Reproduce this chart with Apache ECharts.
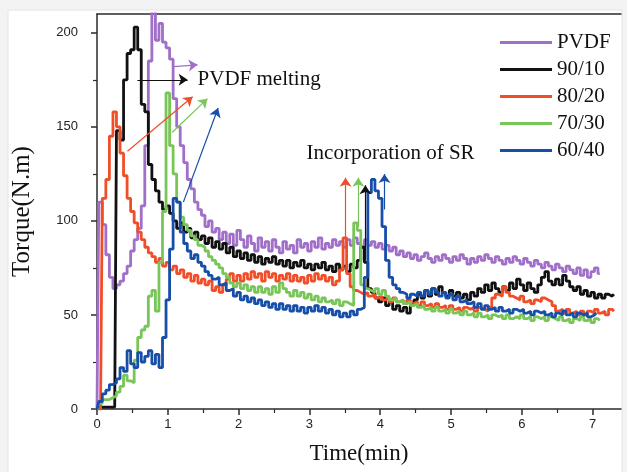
<!DOCTYPE html>
<html>
<head>
<meta charset="utf-8">
<title>Torque vs time</title>
<script src="https://cdn.jsdelivr.net/npm/echarts@6/dist/echarts.min.js"></script>
<style>
  html, body { margin: 0; padding: 0; background: #f3f3f3; }
  #chart { width: 627px; height: 472px; }
</style>
</head>
<body>
<div id="chart"></div>
<script>
// time axis (min), shared by all curves
const time = [
  0, 0.05, 0.1, 0.15, 0.2, 0.25, 0.3, 0.35, 0.4, 0.45,
  0.5, 0.55, 0.6, 0.65, 0.7, 0.75, 0.8, 0.85, 0.9, 0.95,
  1, 1.05, 1.1, 1.15, 1.2, 1.25, 1.3, 1.35, 1.4, 1.45,
  1.5, 1.55, 1.6, 1.65, 1.7, 1.75, 1.8, 1.85, 1.9, 1.95,
  2, 2.05, 2.1, 2.15, 2.2, 2.25, 2.3, 2.35, 2.4, 2.45,
  2.5, 2.55, 2.6, 2.65, 2.7, 2.75, 2.8, 2.85, 2.9, 2.95,
  3, 3.05, 3.1, 3.15, 3.2, 3.25, 3.3, 3.35, 3.4, 3.45,
  3.5, 3.55, 3.6, 3.65, 3.7, 3.75, 3.8, 3.85, 3.9, 3.95,
  4, 4.05, 4.1, 4.15, 4.2, 4.25, 4.3, 4.35, 4.4, 4.45,
  4.5, 4.55, 4.6, 4.65, 4.7, 4.75, 4.8, 4.85, 4.9, 4.95,
  5, 5.05, 5.1, 5.15, 5.2, 5.25, 5.3, 5.35, 5.4, 5.45,
  5.5, 5.55, 5.6, 5.65, 5.7, 5.75, 5.8, 5.85, 5.9, 5.95,
  6, 6.05, 6.1, 6.15, 6.2, 6.25, 6.3, 6.35, 6.4, 6.45,
  6.5, 6.55, 6.6, 6.65, 6.7, 6.75, 6.8, 6.85, 6.9, 6.95,
  7, 7.05, 7.1, 7.15, 7.2, 7.25, 7.3
];

// torque (N.m)
const pvdf = [
  0, 110, 98, 82, 70, 64, 66, 68, 72, 76,
  84, 90, 96, 108, 140, 185, 212, 196, 205, 195,
  192, 186, 165, 150, 140, 131, 122, 117, 110, 106,
  103, 97, 100, 94, 96, 90, 94, 88, 93, 87,
  95, 90, 86, 92, 88, 84, 91, 86, 89, 84,
  90, 86, 83, 89, 85, 87, 83, 90, 86, 88,
  84, 89, 86, 91, 85, 88, 86, 90, 87, 89,
  86, 90, 87, 91, 88, 86, 90, 87, 89, 86,
  88, 85, 87, 84, 86, 82, 84, 81, 83, 80,
  82, 79, 81, 83, 80, 78, 81, 79, 82, 80,
  78, 81, 79, 82, 80, 77, 80, 78, 81, 79,
  82, 80, 78, 81, 79, 77, 80, 78, 81, 79,
  77, 80, 78, 76, 79, 77, 75, 78, 76, 74,
  77, 75, 73, 76, 74, 72, 75, 71, 74, 70,
  73, 75, 72
];
const s9010 = [
  0, 1, 1, 1, 1, 1, 148, 143, 175, 189,
  191, 203, 191, 162, 158, 130, 122, 116, 110, 106,
  108, 104, 100, 96, 99, 94, 96, 91, 94, 90,
  92, 88, 91, 86, 89, 85, 88, 83, 86, 81,
  84, 80, 83, 79, 82, 78, 81, 77, 80, 78,
  81, 77, 79, 76, 79, 75, 78, 76, 79, 75,
  77, 74, 77, 75, 78, 74, 76, 73, 77, 74,
  76, 73, 77, 75, 79, 86, 78, 64, 62, 59,
  57, 59, 55, 57, 53, 55, 52, 54, 51, 55,
  58, 61, 59, 63, 60, 64, 61, 65, 62, 60,
  63, 60, 62, 59, 61, 58, 62, 60, 64, 62,
  66, 63, 67, 64, 62, 65, 63, 67, 64, 69,
  66, 63, 67, 64, 62, 66, 70, 73, 68, 66,
  69, 66, 71, 68, 65, 63, 65, 61, 63, 60,
  62, 59, 61, 59, 61, 60, 61
];
const s8020 = [
  0, 0, 112, 122, 145, 158, 150, 136, 124, 112,
  105, 99, 94, 90, 86, 83, 81, 78, 80, 76,
  78, 74, 76, 72, 74, 70, 72, 68, 71, 67,
  69, 66, 68, 63, 65, 62, 66, 69, 72, 68,
  71, 68, 72, 69, 73, 70, 72, 68, 73, 70,
  72, 68, 71, 69, 72, 68, 71, 68, 70, 67,
  71, 68, 72, 69, 71, 68, 70, 66, 68, 74,
  91, 72, 65, 63, 62, 61, 62, 60, 61, 59,
  60, 58, 59, 57, 59, 57, 58, 56, 58, 56,
  57, 55, 57, 55, 56, 54, 56, 54, 55, 53,
  55, 53, 54, 52, 54, 53, 54, 52, 54, 53,
  52, 54, 59, 61, 60, 65, 62, 60, 59, 58,
  60, 57, 58, 56, 58, 57, 59, 58, 57, 55,
  52, 53, 51, 53, 51, 52, 50, 52, 50, 52,
  51, 53, 51, 52, 50, 53, 52
];
const s7030 = [
  0, 3, 5, 5, 6, 7, 9, 12, 18, 15,
  14, 26, 38, 42, 44, 60, 63, 52, 78, 105,
  168, 140, 125, 110, 102, 98, 95, 92, 90, 87,
  86, 84, 81, 79, 77, 75, 72, 70, 67, 65,
  67, 64, 66, 63, 65, 62, 65, 62, 64, 61,
  65, 62, 67, 64, 62, 60, 63, 60, 62, 59,
  61, 58, 60, 57, 59, 57, 58, 56, 58, 55,
  57, 56, 55, 99, 95, 66, 64, 63, 62, 64,
  61, 63, 60, 58, 59, 57, 58, 56, 57, 55,
  56, 54, 55, 53, 54, 52, 54, 52, 53, 51,
  53, 51, 52, 50, 52, 50, 51, 49, 51, 49,
  50, 48, 50, 49, 50, 48, 50, 48, 49, 48,
  50, 48, 49, 47, 49, 48, 49, 47, 49, 48,
  47, 49, 47, 48, 46, 48, 47, 49, 47, 48,
  46, 48, 47
];
const s6040 = [
  0, 4, 8, 10, 13, 14, 16, 22, 20, 31,
  24, 22, 30, 25, 28, 31, 24, 29, 22, 38,
  58, 85, 112, 110, 94, 88, 84, 80, 82, 78,
  76, 73, 71, 69, 70, 66, 67, 63, 64, 60,
  62, 58, 60, 57, 59, 56, 58, 55, 57, 54,
  56, 53, 56, 53, 55, 52, 55, 52, 54, 51,
  54, 52, 55, 52, 54, 51, 53, 50, 52, 49,
  51, 49, 52, 50, 53, 54, 70, 115, 122, 116,
  112, 97, 79, 70, 66, 64, 62, 61, 59, 61,
  60, 62, 60, 63, 61, 64, 62, 60, 62, 59,
  61, 58, 60, 57, 58, 56, 57, 54, 56, 53,
  55, 53, 54, 52, 54, 52, 53, 51, 53, 52,
  53, 51, 52, 50, 52, 51, 52, 50, 51, 49,
  51, 50, 52, 50, 51, 49, 51, 50, 51, 49,
  50, 51
];

const names = ['PVDF', '90/10', '80/20', '70/30', '60/40'];
const values = [pvdf, s9010, s8020, s7030, s6040];
const colors = {
  'PVDF': '#a06fc8',
  '90/10': '#111111',
  '80/20': '#f04e28',
  '70/30': '#78c657',
  '60/40': '#164ea8'
};

// ticks
const xTicks = [0, 1, 2, 3, 4, 5, 6, 7];
const xMinor = [0.5, 1.5, 2.5, 3.5, 4.5, 5.5, 6.5];
const yTicks = [0, 50, 100, 150, 200];
const yMinor = [25, 75, 125, 175];

// annotation arrows: [series, fromTime, fromTorque, toTime, toTorque]
const meltArrows = [
  ['PVDF', 1.08, 182, 1.42, 183],
  ['90/10', 0.57, 175, 1.28, 175],
  ['80/20', 0.43, 137, 1.35, 166],
  ['70/30', 1.06, 147, 1.56, 165],
  ['60/40', 1.22, 110, 1.71, 160]
];
const srArrows = [
  ['80/20', 3.51, 90, 3.51, 123],
  ['70/30', 3.69, 97, 3.69, 123],
  ['90/10', 3.79, 79, 3.79, 119],
  ['60/40', 4.06, 106, 4.06, 125]
];
const notes = [
  ['PVDF melting', 1.42, 175],
  ['Incorporation of SR', 2.96, 136]
];

const serif = '"Times New Roman", "Liberation Serif", "DejaVu Serif", serif';
const sans = 'Arial, "Liberation Sans", sans-serif';
const axisColor = '#2b2b2b';

const chart = echarts.init(document.getElementById('chart'), null, { renderer: 'canvas' });

const curveSeries = names.map((n, k) => ({
  name: n,
  type: 'line',
  step: 'middle',
  showSymbol: false,
  symbol: 'none',
  clip: true,
  data: values[k].map((v, i) => [time[i], v]),
  lineStyle: { color: colors[n], width: 2.8 },
  itemStyle: { color: colors[n] },
  z: 3 + k
}));

const arrowSeries = {
  type: 'lines',
  coordinateSystem: 'cartesian2d',
  symbol: ['none', 'arrow'],
  symbolSize: 9,
  silent: true,
  z: 10,
  lineStyle: { width: 1.2, opacity: 1 },
  data: meltArrows.concat(srArrows).map(a => ({
    coords: [[a[1], a[2]], [a[3], a[4]]],
    lineStyle: { color: colors[a[0]] }
  }))
};

const noteSeries = {
  type: 'scatter',
  symbolSize: 0,
  silent: true,
  z: 11,
  itemStyle: { opacity: 1 },
  data: notes.map(t => [t[1], t[2], t[0]]),
  label: {
    show: true,
    position: 'right',
    distance: 0,
    opacity: 1,
    formatter: p => p.data[2],
    color: '#111',
    fontFamily: serif,
    fontSize: 21
  }
};

const axisBase = {
  type: 'value',
  gridIndex: 0,
  splitLine: { show: false }
};

chart.setOption({
  animation: false,
  backgroundColor: '#f3f3f3',
  graphic: [{
    type: 'rect',
    z: -100,
    shape: { x: 8, y: 10, width: 614, height: 470 },
    style: { fill: '#ffffff', stroke: '#e4e4e4', lineWidth: 1 }
  }],
  grid: { left: 97, right: 6, top: 14, bottom: 63 },
  legend: {
    data: names,
    orient: 'vertical',
    left: 495,
    top: 27,
    icon: 'rect',
    itemWidth: 52,
    itemHeight: 3,
    itemGap: 6,
    selectedMode: false,
    textStyle: { fontFamily: serif, fontSize: 21, lineHeight: 21, color: '#111' }
  },
  xAxis: [
    Object.assign({}, axisBase, {
      min: 0, max: 7.4, interval: 1,
      position: 'bottom',
      name: 'Time(min)',
      nameLocation: 'middle',
      nameGap: 33,
      nameTextStyle: { fontFamily: serif, fontSize: 23, color: '#111' },
      axisLine: { onZero: false, lineStyle: { color: axisColor, width: 1.5 } },
      axisTick: { customValues: xTicks, length: 6, lineStyle: { color: axisColor, width: 1.5 } },
      axisLabel: { customValues: xTicks, margin: 9, fontFamily: sans, fontSize: 13, color: '#222' }
    }),
    Object.assign({}, axisBase, {
      min: 0, max: 7.4, interval: 1,
      position: 'bottom',
      axisLine: { show: false, onZero: false },
      axisTick: { customValues: xMinor, length: 4, lineStyle: { color: axisColor, width: 1.2 } },
      axisLabel: { show: false }
    }),
    Object.assign({}, axisBase, {
      min: 0, max: 7.4, interval: 1,
      position: 'top',
      axisLine: { onZero: false, lineStyle: { color: axisColor, width: 1.5 } },
      axisTick: { show: false },
      axisLabel: { show: false }
    })
  ],
  yAxis: [
    Object.assign({}, axisBase, {
      min: 0, max: 210, interval: 50,
      position: 'left',
      name: 'Torque(N.m)',
      nameLocation: 'middle',
      nameGap: 62,
      nameTextStyle: { fontFamily: serif, fontSize: 25, color: '#111' },
      axisLine: { show: true, onZero: false, lineStyle: { color: axisColor, width: 1.5 } },
      axisTick: { show: true, customValues: yTicks, length: 6, lineStyle: { color: axisColor, width: 1.5 } },
      axisLabel: { customValues: yTicks, margin: 19, fontFamily: sans, fontSize: 13, color: '#222' }
    }),
    Object.assign({}, axisBase, {
      min: 0, max: 210, interval: 50,
      position: 'left',
      axisLine: { show: false, onZero: false },
      axisTick: { show: true, customValues: yMinor, length: 4, lineStyle: { color: axisColor, width: 1.2 } },
      axisLabel: { show: false }
    })
  ],
  series: curveSeries.concat([arrowSeries, noteSeries])
});
</script>
</body>
</html>
